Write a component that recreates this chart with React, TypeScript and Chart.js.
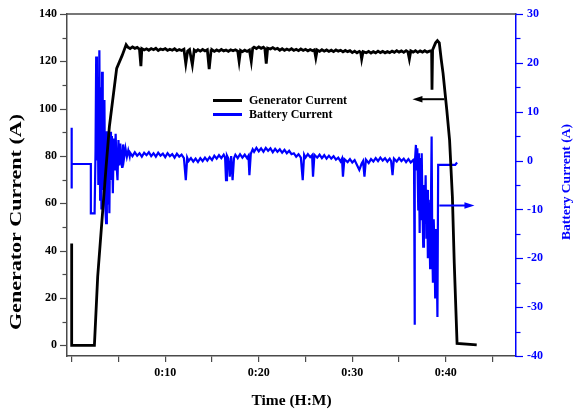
import React, { useEffect, useRef } from 'react';
import { Chart, registerables } from 'chart.js';

Chart.register(...registerables);

const FONT = "'Liberation Serif', 'Times New Roman', serif";

// Tick positions (minutes) and labels
const xTicks = [0, 5, 10, 15, 20, 25, 30, 35, 40, 45];
const xTickLabels = ['', '', '0:10', '', '0:20', '', '0:30', '', '0:40', ''];
const leftTicks = [0, 10, 20, 30, 40, 50, 60, 70, 80, 90, 100, 110, 120, 130, 140];
const leftTickLabels = ['0', '', '20', '', '40', '', '60', '', '80', '', '100', '', '120', '', '140'];
const rightTicks = [-40, -35, -30, -25, -20, -15, -10, -5, 0, 5, 10, 15, 20, 25, 30];
const rightTickLabels = ['-40', '', '-30', '', '-20', '', '-10', '', '0', '', '10', '', '20', '', '30'];

const xTitle = 'Time (H:M)';
const leftTitle = 'Generator Current (A)';
const rightTitle = 'Battery Current (A)';
const legendLabels = ['Generator Current', 'Battery Current'];

// [time (min), current (A)]
const generatorCurrent: [number, number][] = [
  [0, 43], [0, 0], [2.43, 0], [2.78, 29], [3.32, 57], [3.68, 75.5], [4.03, 92.4], [4.81, 117], [5.4, 122.5], [5.82, 127],
  [6.0, 126.0], [6.25, 125.4], [6.5, 126.1], [6.75, 125.5], [7.0, 125.9], [7.25, 125.1], [7.4, 118], [7.5, 125.4], [7.75, 124.8], [8.0, 125.3],
  [8.25, 124.7], [8.5, 125.4], [8.75, 124.9], [9.0, 125.5], [9.25, 124.6], [9.5, 125.2], [9.75, 124.9], [10.0, 125.4], [10.25, 124.6], [10.5, 125.1],
  [10.75, 124.7], [11.0, 125.3], [11.25, 124.5], [11.5, 125.0], [11.75, 124.6], [12.0, 125.1], [12.2, 119], [12.4, 124.4], [12.6, 125.0], [12.9, 118.5],
  [13.1, 124.8], [13.3, 124.2], [13.5, 124.9], [13.75, 124.3], [14.0, 125.0], [14.25, 124.4], [14.5, 124.9], [14.7, 116.7], [14.9, 124.5], [15.0, 124.9],
  [15.25, 124.2], [15.5, 124.8], [15.75, 124.3], [16.0, 125.0], [16.25, 124.4], [16.5, 124.8], [16.75, 124.2], [17.0, 124.9], [17.25, 124.5], [17.5, 124.9],
  [17.75, 124.3], [17.9, 120], [18.05, 124.6], [18.25, 124.1], [18.5, 124.7], [18.75, 124.2], [19.0, 124.8], [19.2, 120], [19.35, 125.5], [19.5, 126.0],
  [19.75, 125.4], [20.0, 126.1], [20.25, 125.5], [20.5, 126.0], [20.65, 125.4], [20.8, 119], [20.95, 125.6], [21.25, 125.2], [21.5, 125.8], [21.75, 125.1],
  [22.0, 125.5], [22.25, 124.7], [22.5, 125.3], [22.75, 124.6], [23.0, 125.2], [23.25, 124.7], [23.5, 125.3], [23.75, 124.6], [24.0, 125.1], [24.25, 124.5],
  [24.5, 125.2], [24.75, 124.6], [25.0, 125.1], [25.25, 124.4], [25.5, 125.0], [25.75, 124.5], [25.95, 124.9], [26.1, 121.5], [26.25, 124.8], [26.5, 124.2],
  [26.75, 124.9], [27.0, 124.3], [27.25, 124.8], [27.5, 124.2], [27.75, 124.7], [28.0, 124.1], [28.25, 124.8], [28.5, 124.3], [28.75, 124.7], [29.0, 124.0],
  [29.25, 124.6], [29.5, 124.1], [29.75, 124.5], [30.0, 123.7], [30.25, 124.3], [30.5, 123.6], [30.75, 124.2], [30.9, 123.7], [31.0, 121], [31.15, 124.1],
  [31.5, 123.6], [31.75, 124.2], [32.0, 123.5], [32.25, 124.1], [32.5, 123.6], [32.75, 124.3], [33.0, 123.7], [33.25, 124.2], [33.5, 123.6], [33.75, 124.1],
  [34.0, 123.7], [34.25, 124.3], [34.5, 123.8], [34.75, 124.5], [35.0, 123.9], [35.25, 124.4], [35.5, 123.8], [35.75, 124.5], [35.95, 124.0], [36.1, 121],
  [36.25, 124.4], [36.5, 123.9], [36.75, 124.5], [37.0, 123.8], [37.25, 124.4], [37.5, 123.9], [37.75, 124.5], [38.0, 123.9], [38.25, 124.3], [38.48, 124.5],
  [38.52, 108], [38.58, 124.8], [38.9, 127.8], [39.1, 128.7], [39.3, 127.8], [39.5, 121], [39.7, 115], [40.1, 99.5], [40.4, 86.7], [40.7, 62.8],
  [40.9, 34.7], [41.2, 0.8], [43.3, 0.2],
];

const batteryCurrent: [number, number][] = [
  [0, 6.7], [0, -5.7], [0, -0.7], [2.05, -0.7], [2.05, -10.8], [2.45, -10.8],
  [2.55, 2], [2.62, 21.3], [2.7, 0], [2.78, 16], [2.85, -5], [2.96, 22.6], [3.04, -8], [3.12, 15], [3.18, -10], [3.25, 18.2],
  [3.32, -6], [3.4, 10], [3.5, 12.4], [3.58, -9], [3.68, -12.8], [3.76, 6], [3.85, -9], [3.93, 4], [4.03, -10.8], [4.12, 5.9],
  [4.2, -4], [4.3, 5], [4.4, -6.7], [4.5, 4.5], [4.6, -2], [4.7, 5.5], [4.8, -1], [4.9, -4], [5.0, 4.2], [5.1, -1],
  [5.2, 3.5], [5.3, 0], [5.4, -1.5], [5.5, 3.3], [5.6, 0.5], [5.75, 2.5], [5.9, 0.8], [6.05, 2.1], [6.2, 0.9],
  [6.25, 1.6], [6.5, 0.9], [6.75, 1.7], [7.0, 1.0], [7.25, 1.5], [7.5, 0.8], [7.75, 1.6], [8.0, 1.1], [8.25, 1.7], [8.5, 0.9],
  [8.75, 1.5], [9.0, 0.8], [9.25, 1.6], [9.5, 1.0], [9.75, 1.4], [10.0, 0.7], [10.25, 1.5], [10.5, 0.9], [10.75, 1.3], [11.0, 0.6],
  [11.25, 1.4], [11.5, 0.8], [11.75, 1.2], [12.0, 0.5], [12.2, -4.0], [12.35, 0.6], [12.5, -0.1], [12.75, 0.5], [13.0, -0.2], [13.25, 0.4],
  [13.5, -0.3], [13.75, 0.5], [14.0, -0.1], [14.25, 0.6], [14.5, 0.0], [14.75, 0.7], [15.0, 0.1], [15.25, 1.0], [15.5, 0.4], [15.75, 1.1],
  [16.0, 0.5], [16.25, 1.2], [16.4, 0.6], [16.5, -4.0], [16.6, 1.0], [16.75, 0.4], [16.9, -3.3], [17.05, 0.9], [17.2, -4.0], [17.35, 0.5],
  [17.5, 1.2], [17.75, 0.5], [18.0, 1.3], [18.25, 0.6], [18.5, 1.2], [18.75, 0.5], [18.9, 1.0], [19.0, -3.0], [19.15, 1.4], [19.35, 2.3],
  [19.5, 1.8], [19.75, 2.6], [20.0, 1.9], [20.25, 2.5], [20.5, 1.8], [20.75, 2.6], [21.0, 2.0], [21.25, 2.5], [21.5, 1.7], [21.75, 2.4],
  [22.0, 1.8], [22.25, 2.3], [22.5, 1.6], [22.75, 2.2], [23.0, 1.5], [23.25, 2.0], [23.5, 1.3], [23.75, 1.5], [24.0, 0.8], [24.25, 1.3],
  [24.5, 0.6], [24.7, -4.0], [24.85, 1.2], [25.0, 0.6], [25.25, 1.3], [25.5, 0.7], [25.7, 1.1], [25.8, -3.3], [25.95, 1.2], [26.25, 0.6],
  [26.5, 1.2], [26.75, 0.5], [27.0, 1.1], [27.25, 0.4], [27.5, 1.0], [27.75, 0.4], [28.0, 0.9], [28.25, 0.2], [28.5, 0.6], [28.75, -0.2],
  [28.9, 0.4], [29.0, -3.3], [29.15, 0.3], [29.5, -0.3], [29.75, 0.3], [30.0, -0.4], [30.25, 0.1], [30.5, -0.9], [30.75, -1.9], [31.0, -0.6],
  [31.15, -0.1], [31.3, -3.3], [31.45, 0.2], [31.75, -0.5], [32.0, 0.3], [32.25, -0.2], [32.5, 0.5], [32.75, -0.1], [33.0, 0.6], [33.25, 0.0],
  [33.5, 0.5], [33.75, -0.2], [34.0, 0.4], [34.15, -0.1], [34.3, -3.0], [34.45, 0.4], [34.75, -0.2], [35.0, 0.5], [35.25, -0.1], [35.5, 0.4],
  [35.75, -0.3], [36.0, 0.3], [36.25, -0.4], [36.5, 0.1], [36.6, -0.5],
  [36.65, -33.6], [36.7, -0.8], [36.8, 3.2], [36.88, -2], [36.95, 2.5], [37.05, -10], [37.12, 1.5], [37.2, -14.8], [37.28, 0.5], [37.35, -12],
  [37.42, 1.5], [37.5, -9], [37.58, -17.6], [37.66, -5], [37.75, -13], [37.84, -3], [37.92, -16], [38.0, -6], [38.08, -20], [38.16, -8],
  [38.24, -14], [38.32, -22], [38.4, -10], [38.48, 4.9], [38.55, -18], [38.62, -25], [38.7, -12], [38.78, -17], [38.86, -28], [38.94, -14],
  [39.02, -20], [39.1, -32], [39.18, -0.9], [41.0, -0.9], [41.2, -0.4],
];

// Arrows: [tail, tip] in data coordinates
const generatorArrow: [number, number][] = [[39.85, 104], [36.43, 104]];
const batteryArrow: [number, number][] = [[39.3, -9.2], [43.06, -9.2]];

const BLUE = '#0000ff';
const FRAME = '#4a4a4a';

function labelFor(ticks: number[], labels: string[], v: number): string {
  const i = ticks.findIndex((t) => Math.abs(t - v) < 1e-6);
  return i >= 0 ? labels[i] : '';
}

function drawArrow(ctx: CanvasRenderingContext2D, x1: number, y1: number, x2: number, y2: number, color: string) {
  const ang = Math.atan2(y2 - y1, x2 - x1);
  const headLen = 10;
  const headHalf = 3.2;
  ctx.strokeStyle = color;
  ctx.fillStyle = color;
  ctx.lineWidth = 2;
  ctx.beginPath();
  ctx.moveTo(x1, y1);
  ctx.lineTo(x2 - Math.cos(ang) * headLen * 0.8, y2 - Math.sin(ang) * headLen * 0.8);
  ctx.stroke();
  ctx.beginPath();
  ctx.moveTo(x2, y2);
  ctx.lineTo(x2 - Math.cos(ang) * headLen - Math.sin(ang) * headHalf, y2 - Math.sin(ang) * headLen + Math.cos(ang) * headHalf);
  ctx.lineTo(x2 - Math.cos(ang) * headLen + Math.sin(ang) * headHalf, y2 - Math.sin(ang) * headLen - Math.cos(ang) * headHalf);
  ctx.closePath();
  ctx.fill();
}

const decorPlugin = {
  id: 'decor',
  afterDatasetsDraw(chart: any) {
    const ctx: CanvasRenderingContext2D = chart.ctx;
    const { left, right, top, bottom } = chart.chartArea;
    const xs = chart.scales.x;
    const yl = chart.scales.yL;
    const yr = chart.scales.yR;
    ctx.save();

    // top frame line
    ctx.strokeStyle = FRAME;
    ctx.lineWidth = 1.5;
    ctx.beginPath();
    ctx.moveTo(left, top);
    ctx.lineTo(right, top);
    ctx.stroke();

    // y-axis tick marks (major longer than minor)
    ctx.lineWidth = 1.2;
    ctx.strokeStyle = FRAME;
    leftTicks.forEach((v, i) => {
      const y = Math.round(yl.getPixelForValue(v)) + 0.5;
      const len = leftTickLabels[i] ? 7 : 4.5;
      ctx.beginPath();
      ctx.moveTo(left, y);
      ctx.lineTo(left - len, y);
      ctx.stroke();
    });
    ctx.strokeStyle = BLUE;
    rightTicks.forEach((v, i) => {
      const y = Math.round(yr.getPixelForValue(v)) + 0.5;
      const len = rightTickLabels[i] ? 7 : 4.5;
      ctx.beginPath();
      ctx.moveTo(right, y);
      ctx.lineTo(right + len, y);
      ctx.stroke();
    });

    // arrows
    drawArrow(
      ctx,
      xs.getPixelForValue(generatorArrow[0][0]), yl.getPixelForValue(generatorArrow[0][1]),
      xs.getPixelForValue(generatorArrow[1][0]), yl.getPixelForValue(generatorArrow[1][1]),
      '#000'
    );
    drawArrow(
      ctx,
      xs.getPixelForValue(batteryArrow[0][0]), yr.getPixelForValue(batteryArrow[0][1]),
      xs.getPixelForValue(batteryArrow[1][0]), yr.getPixelForValue(batteryArrow[1][1]),
      BLUE
    );

    // legend
    const lx = left + 146;
    const ly = top + 86.5;
    const colors = ['#000', BLUE];
    ctx.font = `bold 12px ${FONT}`;
    ctx.textBaseline = 'middle';
    ctx.textAlign = 'left';
    legendLabels.forEach((lab, i) => {
      const y = ly + i * 14;
      ctx.strokeStyle = colors[i];
      ctx.lineWidth = 3;
      ctx.beginPath();
      ctx.moveTo(lx, y);
      ctx.lineTo(lx + 29, y);
      ctx.stroke();
      ctx.fillStyle = '#000';
      ctx.fillText(lab, lx + 36, y + 0.5);
    });

    // x title
    ctx.fillStyle = '#000';
    ctx.font = `bold 15.5px ${FONT}`;
    ctx.textAlign = 'center';
    ctx.textBaseline = 'middle';
    ctx.fillText(xTitle, (left + right) / 2, bottom + 45);

    // left title (stretched along its length as in the reference)
    ctx.save();
    ctx.translate(17, 222);
    ctx.rotate(-Math.PI / 2);
    ctx.font = `bold 16px ${FONT}`;
    const w = ctx.measureText(leftTitle).width;
    ctx.scale(216 / w, 1);
    ctx.fillText(leftTitle, 0, 0);
    ctx.restore();

    // right title
    ctx.save();
    ctx.translate(567, 182);
    ctx.rotate(-Math.PI / 2);
    ctx.font = `bold 13.5px ${FONT}`;
    ctx.fillStyle = BLUE;
    ctx.textAlign = 'center';
    ctx.textBaseline = 'middle';
    ctx.fillText(rightTitle, 0, 0);
    ctx.restore();

    ctx.restore();
  },
};

export default function App() {
  const canvasRef = useRef<HTMLCanvasElement | null>(null);

  useEffect(() => {
    const canvas = canvasRef.current;
    if (!canvas) return;
    const tickFont = { family: FONT, size: 12, weight: 'bold' as const };
    const chart = new Chart(canvas, {
      type: 'line',
      data: {
        datasets: [
          {
            label: legendLabels[0],
            data: generatorCurrent.map(([x, y]) => ({ x, y })),
            yAxisID: 'yL',
            borderColor: '#000',
            backgroundColor: '#000',
            borderWidth: 2.8,
            pointRadius: 0,
            tension: 0,
            fill: false,
          },
          {
            label: legendLabels[1],
            data: batteryCurrent.map(([x, y]) => ({ x, y })),
            yAxisID: 'yR',
            borderColor: BLUE,
            backgroundColor: BLUE,
            borderWidth: 2.2,
            pointRadius: 0,
            tension: 0,
            fill: false,
          },
        ],
      },
      options: {
        animation: false,
        responsive: false,
        maintainAspectRatio: false,
        layout: { padding: { top: 14, left: 0, right: 0, bottom: 0 } },
        plugins: {
          legend: { display: false },
          tooltip: { enabled: false },
          title: { display: false },
        },
        scales: {
          x: {
            type: 'linear',
            min: -0.5,
            max: 47.5,
            afterBuildTicks: (s: any) => {
              s.ticks = xTicks.map((v) => ({ value: v }));
            },
            afterFit: (s: any) => {
              s.height = 55;
              s.paddingLeft = 0;
              s.paddingRight = 0;
            },
            ticks: {
              autoSkip: false,
              maxRotation: 0,
              padding: 4,
              color: '#000',
              font: tickFont,
              callback: (v: any) => labelFor(xTicks, xTickLabels, Number(v)),
            },
            grid: { drawOnChartArea: false, drawTicks: true, tickLength: 6, color: FRAME, lineWidth: 1.2 },
            border: { display: true, color: FRAME, width: 1.5 },
          },
          yL: {
            type: 'linear',
            position: 'left',
            min: -4.5,
            max: 140,
            afterBuildTicks: (s: any) => {
              s.ticks = leftTicks.map((v) => ({ value: v }));
            },
            afterFit: (s: any) => {
              s.width = 67;
              s.paddingTop = 0;
              s.paddingBottom = 0;
            },
            ticks: {
              autoSkip: false,
              padding: 10,
              color: '#000',
              font: tickFont,
              callback: (v: any) => labelFor(leftTicks, leftTickLabels, Number(v)),
            },
            grid: { display: true, drawOnChartArea: false, drawTicks: false, color: FRAME },
            border: { display: true, color: FRAME, width: 1.5 },
          },
          yR: {
            type: 'linear',
            position: 'right',
            min: -40,
            max: 30,
            afterBuildTicks: (s: any) => {
              s.ticks = rightTicks.map((v) => ({ value: v }));
            },
            afterFit: (s: any) => {
              s.width = 62;
              s.paddingTop = 0;
              s.paddingBottom = 0;
            },
            ticks: {
              autoSkip: false,
              padding: 11,
              color: BLUE,
              font: tickFont,
              callback: (v: any) => labelFor(rightTicks, rightTickLabels, Number(v)),
            },
            grid: { display: true, drawOnChartArea: false, drawTicks: false, color: BLUE },
            border: { display: true, color: BLUE, width: 1.5 },
          },
        },
      } as any,
      plugins: [decorPlugin],
    });
    return () => chart.destroy();
  }, []);

  return (
    <div style={{ position: 'fixed', left: 0, top: 0, width: 578, height: 411, background: '#fff' }}>
      <canvas ref={canvasRef} width={578} height={411} style={{ display: 'block', width: 578, height: 411 }} />
    </div>
  );
}
